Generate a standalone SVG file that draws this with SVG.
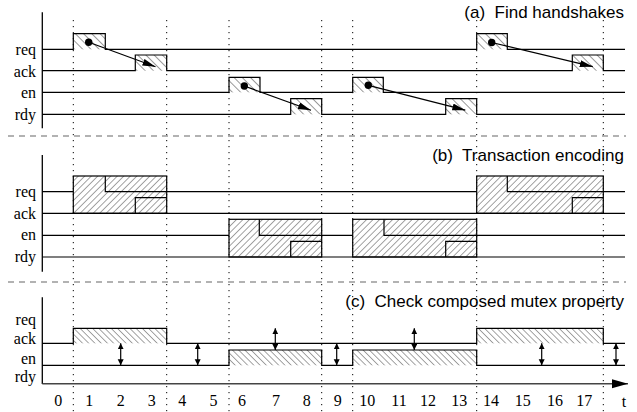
<svg xmlns="http://www.w3.org/2000/svg" width="637" height="412" viewBox="0 0 637 412">
<style>
.sig{fill:none;stroke:#000;stroke-width:1.2}
.box{stroke:#000;stroke-width:1.2}
.axis{fill:none;stroke:#000;stroke-width:1.3}
.lbl{font-family:"Liberation Serif","Times New Roman",serif;font-size:16px;fill:#000}
.ttl{font-family:"Liberation Sans",Arial,sans-serif;font-size:17px;fill:#000}
.num{font-family:"Liberation Serif","Times New Roman",serif;font-size:16px;fill:#000;text-anchor:middle}
.dot{fill:none;stroke:#000;stroke-width:1;stroke-dasharray:1.2 4.8}
.sep{fill:none;stroke:#666;stroke-width:1.2;stroke-dasharray:6 5}
.arr{fill:none;stroke:#000;stroke-width:1.2}
</style>
<defs>
<pattern id="hA" patternUnits="userSpaceOnUse" width="5.8" height="5.8" patternTransform="rotate(-45)">
<line x1="0" y1="0" x2="0" y2="5.8" stroke="#333" stroke-width="1"/>
</pattern>
<pattern id="hB" patternUnits="userSpaceOnUse" width="4.6" height="4.6" patternTransform="rotate(45)">
<line x1="0" y1="0" x2="0" y2="4.6" stroke="#333" stroke-width="0.9"/>
</pattern>
<pattern id="hC" patternUnits="userSpaceOnUse" width="4.4" height="4.4" patternTransform="rotate(-45)">
<line x1="0" y1="0" x2="0" y2="4.4" stroke="#333" stroke-width="0.9"/>
</pattern>
<marker id="ah" markerUnits="userSpaceOnUse" markerWidth="14" markerHeight="8" refX="13" refY="3.5" orient="auto">
<path d="M0,0 L13,3.5 L0,7 z" fill="#000"/>
</marker>
<marker id="dh" markerUnits="userSpaceOnUse" markerWidth="8" markerHeight="7" refX="6" refY="3" orient="auto-start-reverse">
<path d="M0,0 L6,3 L0,6 z" fill="#000"/>
</marker>
<marker id="th" markerUnits="userSpaceOnUse" markerWidth="18" markerHeight="10" refX="16" refY="4.5" orient="auto">
<path d="M0,0 L16,4.5 L0,9 z" fill="#000"/>
</marker>
</defs>

<g id="grid">
<line class="dot" x1="73.3" y1="20" x2="73.3" y2="412"/>
<line class="dot" x1="166.7" y1="20" x2="166.7" y2="412"/>
<line class="dot" x1="229" y1="20" x2="229" y2="412"/>
<line class="dot" x1="321.7" y1="20" x2="321.7" y2="412"/>
<line class="dot" x1="352.7" y1="20" x2="352.7" y2="412"/>
<line class="dot" x1="476.7" y1="20" x2="476.7" y2="412"/>
<line class="dot" x1="603.3" y1="20" x2="603.3" y2="412"/>
<line class="sep" x1="8" y1="136" x2="626" y2="136"/>
<line class="sep" x1="8" y1="282" x2="626" y2="282"/>
</g>

<g id="panel-a">
<text class="ttl" x="624" y="17.5" text-anchor="end" xml:space="preserve">(a)  Find handshakes</text>
<line class="axis" x1="42.3" y1="12.3" x2="42.3" y2="128.3"/>
<text class="lbl" x="36" y="55" text-anchor="end">req</text>
<text class="lbl" x="36" y="76.5" text-anchor="end">ack</text>
<text class="lbl" x="36" y="98" text-anchor="end">en</text>
<text class="lbl" x="36" y="120" text-anchor="end">rdy</text>
<rect x="73.3" y="33.7" width="32" height="15.6" fill="url(#hA)"/>
<rect x="476.7" y="33.7" width="30.6" height="15.6" fill="url(#hA)"/>
<rect x="135.3" y="55" width="31.4" height="15.7" fill="url(#hA)"/>
<rect x="572.3" y="55" width="31" height="15.7" fill="url(#hA)"/>
<rect x="229" y="77.3" width="31" height="15" fill="url(#hA)"/>
<rect x="352.7" y="77.3" width="30.6" height="15" fill="url(#hA)"/>
<rect x="290.7" y="98.7" width="31" height="15.6" fill="url(#hA)"/>
<rect x="445.7" y="98.7" width="31" height="15.6" fill="url(#hA)"/>
<path class="sig" d="M42.3,49.3 H73.3 V33.7 H105.3 V49.3 H476.7 V33.7 H507.3 V49.3 H625"/>
<path class="sig" d="M42.3,70.7 H135.3 V55 H166.7 V70.7 H572.3 V55 H603.3 V70.7 H625"/>
<path class="sig" d="M42.3,92.3 H229 V77.3 H260 V92.3 H352.7 V77.3 H383.3 V92.3 H625"/>
<path class="sig" d="M42.3,114.3 H290.7 V98.7 H321.7 V114.3 H445.7 V98.7 H476.7 V114.3 H625"/>
</g>

<g id="panel-b">
<text class="ttl" x="624" y="160.7" text-anchor="end" xml:space="preserve">(b)  Transaction encoding</text>
<line class="axis" x1="42.3" y1="155" x2="42.3" y2="271.7"/>
<text class="lbl" x="36" y="196.5" text-anchor="end">req</text>
<text class="lbl" x="36" y="218.5" text-anchor="end">ack</text>
<text class="lbl" x="36" y="240.3" text-anchor="end">en</text>
<text class="lbl" x="36" y="262" text-anchor="end">rdy</text>
<path class="sig" d="M42.3,191.7 H73.3 M166.7,191.7 H476.7 M603.3,191.7 H625"/>
<path class="sig" d="M42.3,213.3 H625"/>
<path class="sig" d="M42.3,235.3 H229 M321.7,235.3 H352.7 M476.7,235.3 H625"/>
<path class="sig" d="M42.3,257 H625"/>
<g id="tx1">
<rect class="box" x="73.3" y="176" width="93.4" height="37.3" fill="url(#hB)"/>
<path class="sig" d="M105.3,176 V191.7 H166.7 M135.3,213.3 V197.7 H166.7"/>
</g>
<g id="tx2">
<rect class="box" x="229" y="219.3" width="92.7" height="37.7" fill="url(#hB)"/>
<path class="sig" d="M259.3,219.3 V235.3 H321.7 M290.7,257 V241.3 H321.7"/>
</g>
<g id="tx3">
<rect class="box" x="352.7" y="219.3" width="124" height="37.7" fill="url(#hB)"/>
<path class="sig" d="M384,219.3 V235.3 H476.7 M445.7,257 V241.3 H476.7"/>
</g>
<g id="tx4">
<rect class="box" x="476.7" y="176" width="126.6" height="37.3" fill="url(#hB)"/>
<path class="sig" d="M507.3,176 V191.7 H603.3 M572.3,213.3 V197.7 H603.3"/>
</g>
</g>

<g id="panel-c">
<text class="ttl" x="624" y="306.7" text-anchor="end" xml:space="preserve">(c)  Check composed mutex property</text>
<line class="axis" x1="42.3" y1="297.3" x2="42.3" y2="384"/>
<text class="lbl" x="36" y="325" text-anchor="end">req</text>
<text class="lbl" x="36" y="344" text-anchor="end">ack</text>
<text class="lbl" x="36" y="363.5" text-anchor="end">en</text>
<text class="lbl" x="36" y="381.5" text-anchor="end">rdy</text>
<rect x="73.3" y="328.3" width="93.4" height="15" fill="url(#hC)"/>
<rect x="476.7" y="328.3" width="126.6" height="15" fill="url(#hC)"/>
<rect x="229" y="350" width="92.7" height="15.3" fill="url(#hC)"/>
<rect x="352.7" y="350" width="124" height="15.3" fill="url(#hC)"/>
<path class="sig" d="M42.3,343.3 H73.3 V328.3 H166.7 V343.3 H476.7 V328.3 H603.3 V343.3 H625"/>
<path class="sig" d="M42.3,365.3 H229 V350 H321.7 V365.3 H352.7 V350 H476.7 V365.3 H625"/>
<line x1="42.3" y1="383.7" x2="628" y2="383.7" stroke="#444" stroke-width="1.6" marker-end="url(#th)"/>
<text class="num" x="58.3" y="406">0</text>
<text class="num" x="89.3" y="406">1</text>
<text class="num" x="120.7" y="406">2</text>
<text class="num" x="151.7" y="406">3</text>
<text class="num" x="182.3" y="406">4</text>
<text class="num" x="213.6" y="406">5</text>
<text class="num" x="242" y="406">6</text>
<text class="num" x="276" y="406">7</text>
<text class="num" x="306.7" y="406">8</text>
<text class="num" x="337.7" y="406">9</text>
<text class="num" x="367.3" y="406">10</text>
<text class="num" x="399" y="406">11</text>
<text class="num" x="428" y="406">12</text>
<text class="num" x="459.3" y="406">13</text>
<text class="num" x="491" y="406">14</text>
<text class="num" x="522.7" y="406">15</text>
<text class="num" x="555" y="406">16</text>
<text class="num" x="584.3" y="406">17</text>
<text class="num" x="624" y="407">t</text>
</g>

<g id="connectors">
<circle cx="88.7" cy="42.3" r="3.7"/>
<line class="arr" x1="88.7" y1="42.3" x2="155.5" y2="66.7" marker-end="url(#ah)"/>
<circle cx="244.3" cy="86" r="3.7"/>
<line class="arr" x1="244.3" y1="86" x2="311" y2="110.2" marker-end="url(#ah)"/>
<circle cx="368.3" cy="85.3" r="3.7"/>
<line class="arr" x1="368.3" y1="85.3" x2="465.3" y2="110.2" marker-end="url(#ah)"/>
<circle cx="491.7" cy="42.5" r="3.7"/>
<line class="arr" x1="491.7" y1="42.5" x2="592.8" y2="66.7" marker-end="url(#ah)"/>
<line class="arr" x1="120.7" y1="343.3" x2="120.7" y2="365.3" marker-start="url(#dh)" marker-end="url(#dh)"/>
<line class="arr" x1="197.7" y1="343.3" x2="197.7" y2="365.3" marker-start="url(#dh)" marker-end="url(#dh)"/>
<line class="arr" x1="275.3" y1="328.3" x2="275.3" y2="350" marker-start="url(#dh)" marker-end="url(#dh)"/>
<line class="arr" x1="336.7" y1="343.3" x2="336.7" y2="365.3" marker-start="url(#dh)" marker-end="url(#dh)"/>
<line class="arr" x1="414.3" y1="328.3" x2="414.3" y2="350" marker-start="url(#dh)" marker-end="url(#dh)"/>
<line class="arr" x1="541.7" y1="343.3" x2="541.7" y2="365.3" marker-start="url(#dh)" marker-end="url(#dh)"/>
<line class="arr" x1="616" y1="343.3" x2="616" y2="365.3" marker-start="url(#dh)" marker-end="url(#dh)"/>
</g>
</svg>
